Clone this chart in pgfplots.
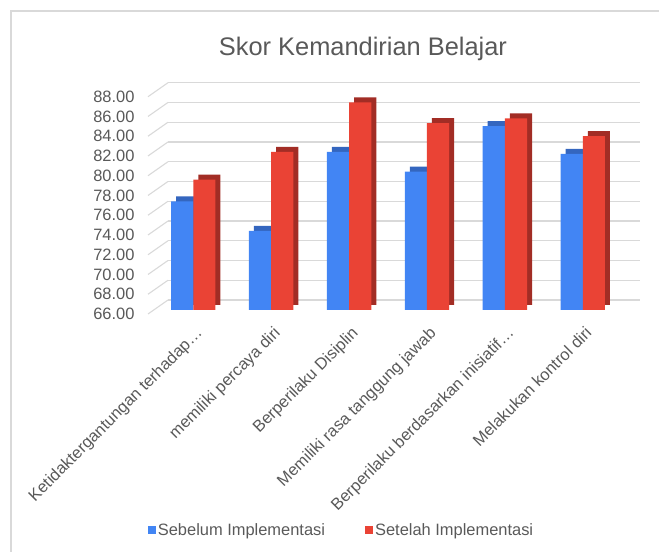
\documentclass[border=0pt]{standalone}
\usepackage{pgfplots}
\pgfplotsset{compat=1.18}
\usepackage{fontspec}
\setmainfont{Liberation Sans}
\definecolor{txt}{HTML}{595959}
\definecolor{gridc}{HTML}{D9D9D9}
\definecolor{bluef}{HTML}{4285F4}
\definecolor{bluetop}{HTML}{3466BF}
\definecolor{redf}{HTML}{EA4335}
\definecolor{redside}{HTML}{A22D25}
\begin{document}
\begin{tikzpicture}
\useasboundingbox (0bp,0bp) rectangle (659bp,552bp);
\draw[gridc, line width=1.2bp] (11bp,0bp) -- (11bp,541bp) -- (659bp,541bp);
\node[txt, font=\fontsize{25.5}{30}\selectfont] at (363bp,503bp) {Skor Kemandirian Belajar};
% back wall with gridlines
\begin{axis}[
  at={(168bp,252bp)}, anchor=south west, scale only axis,
  width=472bp, height=217.3bp,
  xmin=0, xmax=1, ymin=66, ymax=88,
  ytick={66,68,...,88}, xtick=\empty,
  yticklabels={}, major tick length=0pt,
  axis line style={draw=none},
  ymajorgrids, grid style={gridc, line width=1.1bp},
  clip=false,
]
\pgfplotsinvokeforeach{66,68,...,88}{
  \draw[gridc, line width=1.1bp] (axis cs:0,#1) -- ++(-20bp,-14bp);
}
\end{axis}
% bars
\begin{axis}[
  at={(148bp,242bp)}, anchor=south west, scale only axis,
  width=472bp, height=217.4bp,
  xmin=-0.581, xmax=5.478, ymin=66, ymax=88,
  ytick={66,68,...,88},
  xtick={0,1,2,3,4,5},
  xticklabels={Ketidaktergantungan terhadap…, memiliki percaya diri, Berperilaku Disiplin, Memiliki rasa tanggung jawab, Berperilaku berdasarkan inisiatif…, Melakukan kontrol diri},
  major tick length=0pt,
  axis line style={draw=none},
  /pgf/number format/assume math mode=true,
  yticklabel style={/pgf/number format/fixed, /pgf/number format/fixed zerofill, /pgf/number format/precision=2},
  tick label style={txt, font=\fontsize{16.5}{19}\selectfont},
  yticklabel style={anchor=east, xshift=-10bp, yshift=-4bp},
  xticklabel style={rotate=45, anchor=north east, inner sep=0pt, xshift=-10bp, yshift=-12bp},
  legend columns=2,
  legend style={draw=none, fill=none, at={(0.41,-1.012)}, anchor=center,
    font=\fontsize{16.5}{19}\selectfont, text=txt,
    /tikz/every even column/.append style={column sep=38bp},
    nodes={inner sep=2bp}},
  legend image code/.code={\fill[#1] (0bp,-4bp) rectangle (8bp,4bp);},
]
\addplot[ybar, bar width=22.2bp, bar shift=-6.1bp, yshift=5bp, fill=bluetop, draw=none, forget plot]
  coordinates {(0,77.0) (1,74.0) (2,82.0) (3,80.0) (4,84.6) (5,81.8)};
\addplot[ybar, bar width=22.2bp, bar shift=-11.1bp, fill=bluef, draw=none]
  coordinates {(0,77.0) (1,74.0) (2,82.0) (3,80.0) (4,84.6) (5,81.8)};
\addplot[ybar, bar width=22.2bp, bar shift=16.1bp, yshift=5bp, fill=redside, draw=none, forget plot]
  coordinates {(0,79.2) (1,82.0) (2,87.0) (3,84.9) (4,85.4) (5,83.6)};
\addplot[ybar, bar width=22.2bp, bar shift=11.1bp, fill=redf, draw=none]
  coordinates {(0,79.2) (1,82.0) (2,87.0) (3,84.9) (4,85.4) (5,83.6)};
\legend{Sebelum Implementasi, Setelah Implementasi}
\end{axis}
\end{tikzpicture}
\end{document}
